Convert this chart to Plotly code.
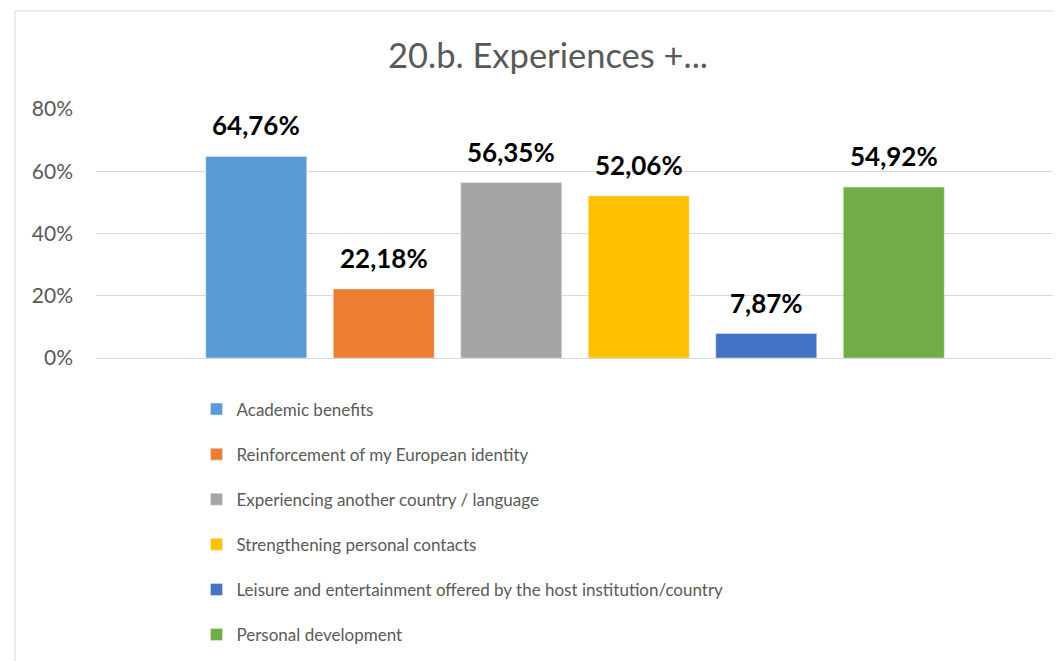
import plotly.graph_objects as go

categories = [
    "Academic benefits",
    "Reinforcement of my European identity",
    "Experiencing another country / language",
    "Strengthening personal contacts",
    "Leisure and entertainment offered by the host institution/country",
    "Personal development",
]
values = [64.76, 22.18, 56.35, 52.06, 7.87, 54.92]
colors = ["#5B9BD5", "#ED7D31", "#A5A5A5", "#FFC000", "#4472C4", "#70AD47"]
tick_vals = [0, 20, 40, 60, 80]
tick_text = ["0%", "20%", "40%", "60%", "80%"]
title_text = "20.b. Experiences +..."

FONT = "Lato, 'Open Sans', sans-serif"
OFF = 8  # page body margin
W, H = 1061 - OFF, 661 - OFF
ML, MT = 96 - OFF, 109 - OFF
PR, PB = 1054 - OFF, 358 - OFF
MR, MB = W - PR, H - PB
PW, PH = PR - ML, PB - MT

fig = go.Figure()
for i, (cat, v, c) in enumerate(zip(categories, values, colors)):
    fig.add_trace(go.Bar(
        x=[cat], y=[v], name=cat, marker_color=c, width=0.792,
        legendgroup=f"g{i}", hoverinfo="skip",
    ))
    fig.add_annotation(
        x=cat, y=v, xref="x", yref="y",
        text="<b>" + f"{v:.2f}".replace(".", ",") + "%</b>",
        showarrow=False, yanchor="bottom", yshift=13,
        font=dict(family=FONT, size=26, color="#000000"),
    )

n = len(categories)
half = PW / 127.5 / 2
legend_top = 411 - OFF - 19.5
fig.update_layout(
    width=W, height=H, autosize=False,
    margin=dict(l=ML, r=MR, t=MT, b=MB, pad=0),
    paper_bgcolor="white", plot_bgcolor="white",
    barmode="overlay",
    title=dict(text=title_text, x=(548 - OFF) / W, xanchor="center", xref="container",
               y=1 - (56 - OFF) / H, yanchor="middle", yref="container",
               font=dict(family=FONT, size=34.5, color="#595959")),
    xaxis=dict(type="category", range=[(n - 1) / 2 - half, (n - 1) / 2 + half],
               showticklabels=False, showgrid=False, zeroline=False,
               showline=True, linecolor="#D9D9D9", linewidth=1, ticks=""),
    yaxis=dict(range=[0, 80], tickvals=tick_vals, ticktext=tick_text,
               showgrid=True, gridcolor="#D9D9D9", gridwidth=1,
               zeroline=False, showline=False, ticks="",
               ticklabelstandoff=22,
               tickfont=dict(family=FONT, size=21, color="#595959")),
    showlegend=True,
    legend=dict(orientation="v", x=(208 - 19.5 - ML) / PW, xanchor="left",
                y=-(legend_top - PB) / PH, yanchor="top",
                font=dict(family=FONT, size=17, color="#595959"),
                tracegroupgap=20, bgcolor="rgba(0,0,0,0)"),
    shapes=[dict(type="rect", xref="paper", yref="paper",
                 x0=(15 - OFF - ML) / PW, x1=1.3, y0=-2, y1=(PB - (11 - OFF)) / PH,
                 line=dict(color="#D9D9D9", width=1), fillcolor="rgba(0,0,0,0)",
                 layer="below")],
)

fig.write_html("out.html")
